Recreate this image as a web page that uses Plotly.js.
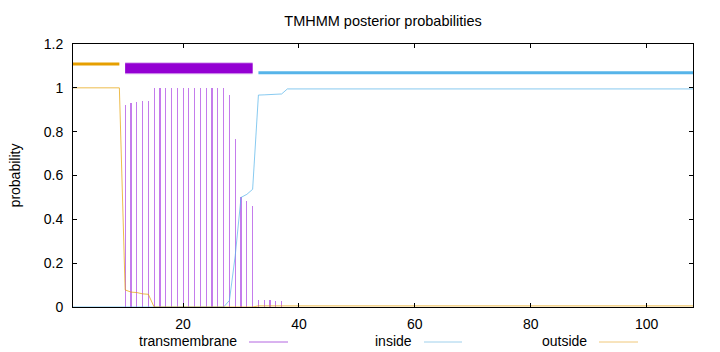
<!DOCTYPE html>
<html>
<head>
<meta charset="utf-8">
<script src="https://cdn.plot.ly/plotly-3.0.1.min.js"></script>
<style>html,body{margin:0;padding:0;background:#fff;}#chart{width:720px;height:352px;}</style>
</head>
<body>
<div id="chart"></div>
<script>
// ---- data ----
const positions = [];
for (let i = 1; i <= 108; i++) positions.push(i);

const transmembrane = [
  0,0,0,0,0,0,0,0,0,
  0.92,0.932,0.937,0.94,0.942,
  1,1,1,1,1,1,1,1,1,1,1,1,1,
  0.967,0.766,0.50,0.484,0.461,
  0.03,0.03,0.03,0.028,0.028,
  0,0,0,0,0,0,0,0,0,0,0,0,0,0,0,0,0,0,0,0,0,0,0,0,0,0,0,0,0,0,0,0,0,0,0,0,
  0,0,0,0,0,0,0,0,0,0,0,0,0,0,0,0,0,0,0,0,0,0,0,0,0,0,0,0,0,0,0,0,0,0,0,0,0,0,0,0,0
];
const inside = [
  0,0,0,0,0,0,0,0,0,0,0,0,0,0,0,0,0,0,0,0,0,0,0,0,0,0,0,
  0.03,0.235,0.50,0.514,0.537,
  0.967,0.968,0.969,0.971,0.972,
  0.995,0.995,0.995,0.995,0.995,0.995,0.995,0.995,0.995,0.995,0.995,0.995,0.995,0.995,0.995,0.995,0.995,0.995,0.995,0.995,
  0.995,0.995,0.995,0.995,0.995,0.995,0.995,0.995,0.995,0.995,0.995,0.995,0.995,0.995,0.995,0.995,0.995,0.995,0.995,0.995,
  0.995,0.995,0.995,0.995,0.995,0.995,0.995,0.995,0.995,0.995,0.995,0.995,0.995,0.995,0.995,0.995,0.995,0.995,0.995,0.995,
  0.995,0.995,0.995,0.995,0.995,0.995,0.995,0.995,0.995,0.995,0.995
];
const outside = [
  1,1,1,1,1,1,1,1,1,
  0.078,0.068,0.066,0.06,0.058,
  0,0,0,0,0,0,0,0,0,0,0,0,0,0,0,0,0,0,
  0.005,0.005,0.005,0.005,0.005,0.005,0.005,0.005,0.005,0.005,0.005,0.005,0.005,0.005,0.005,0.005,0.005,0.005,0.005,0.005,
  0.005,0.005,0.005,0.005,0.005,0.005,0.005,0.005,0.005,0.005,0.005,0.005,0.005,0.005,0.005,0.005,0.005,0.005,0.005,0.005,
  0.005,0.005,0.005,0.005,0.005,0.005,0.005,0.005,0.005,0.005,0.005,0.005,0.005,0.005,0.005,0.005,0.005,0.005,0.005,0.005,
  0.005,0.005,0.005,0.005,0.005,0.005,0.005,0.005,0.005,0.005,0.005,0.005,0.005,0.005,0.005,0.005
];

// predicted topology
const regionType  = ["outside", "transmembrane", "inside"];
const regionStart = [1, 10, 33];
const regionEnd   = [9, 32, 108];
const regionLevel = [1.109, 1.089, 1.069];

const xTicks = [20, 40, 60, 80, 100];
const legendNames = ["transmembrane", "inside", "outside"];

// ---- styles ----
const colors = {transmembrane: "#9400d3", inside: "#56b4e9", outside: "#e69f00"};
const regionWidth = {transmembrane: 10, inside: 3, outside: 3};
const FONT = "Liberation Sans, Arial, Helvetica, sans-serif";

const traces = [];
traces.push({
  type: "bar", x: positions, y: transmembrane, width: 0.2,
  marker: {color: "#c47cec", line: {width: 0}}, hoverinfo: "x+y", showlegend: false
});
traces.push({
  type: "scatter", mode: "lines", x: positions, y: inside,
  line: {color: "rgba(86,180,233,0.7)", width: 1}, showlegend: false
});
traces.push({
  type: "scatter", mode: "lines", x: positions, y: outside,
  line: {color: "rgba(230,159,0,0.7)", width: 1}, showlegend: false
});
for (let i = 0; i < regionType.length; i++) {
  const t = regionType[i];
  if (t === "transmembrane") {
    traces.push({
      type: "scatter", mode: "lines",
      x: [regionStart[i], regionEnd[i]], y: [regionLevel[i], regionLevel[i]],
      line: {color: "#dcb0f0", width: regionWidth[t] + 2}, showlegend: false, hoverinfo: "skip"
    });
  }
  traces.push({
    type: "scatter", mode: "lines",
    x: [regionStart[i], regionEnd[i]], y: [regionLevel[i], regionLevel[i]],
    line: {color: colors[t], width: regionWidth[t]}, showlegend: false
  });
}

// legend drawn as text followed by a line sample (gnuplot style)
const L = 73, W = 620, T = 44, H = 263;
const px2x = p => (p - L) / W;
const py2y = p => (T + H - p) / H;
const legendTextRight = [239, 414, 589];
const legendLine = [[249, 288], [424, 462], [599, 638]];
const legendColors = ["#b366e0", "#9fd0ec", "#f0c87a"];
const legendY = 341;
const annotations = [], shapes = [];
for (let i = 0; i < legendNames.length; i++) {
  annotations.push({
    text: legendNames[i], xref: "paper", yref: "paper",
    x: px2x(legendTextRight[i]), y: py2y(legendY), xanchor: "right", yanchor: "middle",
    showarrow: false, font: {family: FONT, size: 14, color: "#000"}
  });
  shapes.push({
    type: "line", xref: "paper", yref: "paper",
    x0: px2x(legendLine[i][0]), x1: px2x(legendLine[i][1]),
    y0: py2y(legendY + 1), y1: py2y(legendY + 1),
    line: {color: legendColors[i], width: 1}
  });
}

const layout = {
  width: 720, height: 352,
  margin: {l: L, r: 720 - L - W, t: T, b: 352 - T - H, pad: 0},
  paper_bgcolor: "#fff", plot_bgcolor: "#fff",
  font: {family: FONT, size: 14, color: "#000"},
  title: {text: "TMHMM posterior probabilities", font: {family: FONT, size: 14.5, color: "#000"},
          xref: "paper", x: 0.5, xanchor: "center", yref: "container", y: 1 - 21 / 352, yanchor: "middle"},
  showlegend: false,
  bargap: 0,
  xaxis: {
    range: [1, 108], tickvals: xTicks, ticks: "inside", ticklen: 4, tickcolor: "#000",
    showline: true, linecolor: "#000", linewidth: 1, mirror: "ticks",
    showgrid: false, zeroline: false, tickfont: {family: FONT, size: 14, color: "#000"},
    ticklabelstandoff: 4
  },
  yaxis: {
    range: [0, 1.2], dtick: 0.2, tick0: 0, ticks: "inside", ticklen: 4, tickcolor: "#000",
    showline: true, linecolor: "#000", linewidth: 1, mirror: "ticks",
    showgrid: false, zeroline: false, tickfont: {family: FONT, size: 14, color: "#000"},
    ticklabelstandoff: 6,
    title: {text: "probability", font: {family: FONT, size: 14, color: "#000"}, standoff: 19}
  },
  annotations: annotations,
  shapes: shapes
};

Plotly.newPlot("chart", traces, layout, {displayModeBar: false, staticPlot: true});
</script>
</body>
</html>
